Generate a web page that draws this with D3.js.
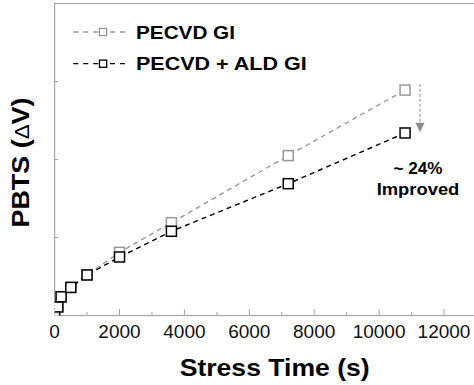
<!DOCTYPE html>
<html>
<head>
<meta charset="utf-8">
<script src="https://cdn.jsdelivr.net/npm/d3@7"></script>
<style>
  body { margin: 0; background: #fff; }
  svg { display: block; font-family: "Liberation Sans", Arial, sans-serif; }
</style>
</head>
<body>
<div id="chart"></div>
<script>
// stress times (s) and threshold voltage shift
var times = [0, 100, 200, 500, 1000, 2000, 3600, 7200, 10800];
var pecvd = [0.02, 0.11, 0.24, 0.36, 0.52, 0.81, 1.19, 2.05, 2.89];
var pecvdAld = [0.02, 0.11, 0.24, 0.36, 0.52, 0.75, 1.08, 1.69, 2.34];

var xTicks = [0, 2000, 4000, 6000, 8000, 10000, 12000];
var xMinor = [1000, 3000, 5000, 7000, 9000, 11000];
var yTicks = [1, 2, 3];

var seriesNames = ["PECVD GI", "PECVD + ALD GI"];
var seriesColors = ["#999999", "#000000"];

// arrow annotation (time, from, to) and its label
var arrowT = 11260, arrowFrom = 2.97, arrowTo = 2.35;
var noteLines = ["~ 24%", "Improved"];

var W = 474, H = 385;
var margin = {left: 54.6, top: 3.5, bottom: 69.5};

var x = d3.scaleLinear().domain([0, 13000]).range([margin.left, margin.left + 13000 * 0.03245]);
var y = d3.scaleLinear().domain([0, 4]).range([H - margin.bottom, margin.top]);

var svg = d3.select('#chart').append('svg')
    .attr('width', W)
    .attr('height', H);

svg.append('clipPath').attr('id', 'plot')
  .append('rect')
    .attr('x', x(0))
    .attr('y', y(4))
    .attr('width', x(13000) - x(0))
    .attr('height', y(0) - y(4));

// frame
svg.append('rect')
    .attr('x', x(0))
    .attr('y', y(4))
    .attr('width', x(13000) - x(0))
    .attr('height', y(0) - y(4))
    .attr('fill', 'none')
    .attr('stroke', '#a6a6a6')
    .attr('stroke-width', 1.2);

// x axis ticks, pointing inward
svg.selectAll('line.xmaj')
    .data(xTicks.slice(1))
    .enter().append('line')
    .attr('x1', x).attr('x2', x)
    .attr('y1', y(0)).attr('y2', y(0) - 6.5)
    .attr('stroke', '#a6a6a6').attr('stroke-width', 1);

svg.selectAll('line.xmin')
    .data(xMinor)
    .enter().append('line')
    .attr('x1', x).attr('x2', x)
    .attr('y1', y(0)).attr('y2', y(0) - 3.5)
    .attr('stroke', '#a6a6a6').attr('stroke-width', 1);

svg.selectAll('line.ytick')
    .data(yTicks)
    .enter().append('line')
    .attr('x1', x(0)).attr('x2', x(0) + 3.5)
    .attr('y1', y).attr('y2', y)
    .attr('stroke', '#a6a6a6').attr('stroke-width', 1);

svg.selectAll('text.xlab')
    .data(xTicks)
    .enter().append('text')
    .attr('x', x)
    .attr('y', 337.8)
    .attr('text-anchor', 'middle')
    .style('font-size', '19px')
    .attr('fill', '#111')
    .text(function(d) { return d; });

// axis titles
svg.append('text')
    .attr('x', 274.7)
    .attr('y', 376)
    .attr('text-anchor', 'middle')
    .attr('textLength', 190)
    .attr('lengthAdjust', 'spacingAndGlyphs')
    .style('font-size', '24px')
    .style('font-weight', 'bold')
    .text('Stress Time (s)');

var yt = svg.append('text')
    .attr('transform', 'translate(28.5,162.5) rotate(-90)')
    .attr('text-anchor', 'middle')
    .attr('textLength', 130)
    .attr('lengthAdjust', 'spacingAndGlyphs')
    .style('font-size', '24px')
    .style('font-weight', 'bold');
yt.append('tspan').text('PBTS (');
yt.append('tspan').style('font-weight', 'normal').style('font-size', '20px').text('\u0394');
yt.append('tspan').text('V)');

// series
var data = [pecvd, pecvdAld];
var line = d3.line()
    .x(function(d, i) { return x(times[i]); })
    .y(function(d) { return y(d); });

var plot = svg.append('g').attr('clip-path', 'url(#plot)');

data.forEach(function(vals, k) {
    plot.append('path')
        .datum(vals)
        .attr('d', line)
        .attr('fill', 'none')
        .attr('stroke', seriesColors[k])
        .attr('stroke-width', 1.4)
        .attr('stroke-dasharray', '5,4');

    plot.selectAll('rect.s' + k)
        .data(vals)
        .enter().append('rect')
        .attr('x', function(d, i) { return x(times[i]) - 5; })
        .attr('y', function(d) { return y(d) - 5; })
        .attr('width', 10)
        .attr('height', 10)
        .attr('fill', '#fff')
        .attr('stroke', seriesColors[k])
        .attr('stroke-width', 1.5);
});

// legend
var legY = [32, 63.7];
seriesNames.forEach(function(name, k) {
    var g = svg.append('g');
    g.append('line')
        .attr('x1', 73.3).attr('x2', 99)
        .attr('y1', legY[k]).attr('y2', legY[k])
        .attr('stroke', seriesColors[k]).attr('stroke-width', 1.3)
        .attr('stroke-dasharray', '5,5');
    g.append('line')
        .attr('x1', 110).attr('x2', 126)
        .attr('y1', legY[k]).attr('y2', legY[k])
        .attr('stroke', seriesColors[k]).attr('stroke-width', 1.3)
        .attr('stroke-dasharray', '5,5');
    g.append('rect')
        .attr('x', 99.5).attr('y', legY[k] - 3.6)
        .attr('width', 7.2).attr('height', 7.2)
        .attr('fill', '#fff')
        .attr('stroke', seriesColors[k]).attr('stroke-width', 1.3);
    g.append('text')
        .attr('x', 136)
        .attr('y', legY[k] + 6.5)
        .attr('textLength', k === 0 ? 99 : 170.7)
        .attr('lengthAdjust', 'spacingAndGlyphs')
        .style('font-size', '18.5px')
        .style('font-weight', 'bold')
        .text(name);
});

// arrow
svg.append('line')
    .attr('x1', x(arrowT)).attr('x2', x(arrowT))
    .attr('y1', y(arrowFrom)).attr('y2', y(arrowTo) - 9)
    .attr('stroke', '#8c8c8c').attr('stroke-width', 1)
    .attr('stroke-dasharray', '3,2');
svg.append('path')
    .attr('d', 'M' + (x(arrowT) - 4.5) + ',' + (y(arrowTo) - 9.5) +
               'L' + (x(arrowT) + 4.5) + ',' + (y(arrowTo) - 9.5) +
               'L' + x(arrowT) + ',' + y(arrowTo) + 'Z')
    .attr('fill', '#8c8c8c');

svg.selectAll('text.note')
    .data(noteLines)
    .enter().append('text')
    .attr('x', 418)
    .attr('y', function(d, i) { return i === 0 ? 173.5 : 195.3; })
    .attr('text-anchor', 'middle')
    .attr('textLength', function(d, i) { return i === 0 ? 49 : 82.7; })
    .attr('lengthAdjust', 'spacingAndGlyphs')
    .style('font-size', '17px')
    .style('font-weight', 'bold')
    .text(function(d) { return d; });
</script>
</body>
</html>
